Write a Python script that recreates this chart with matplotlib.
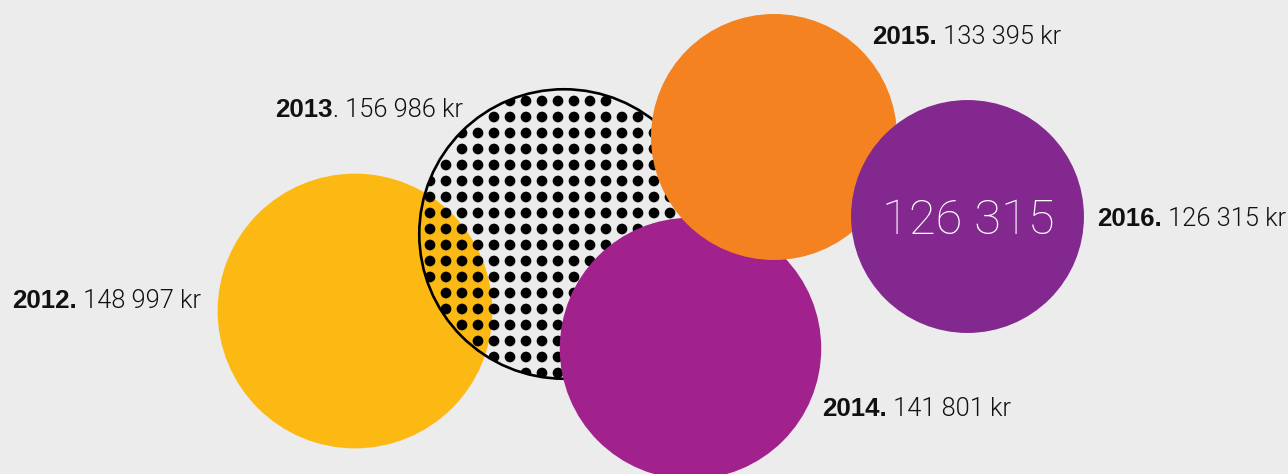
import matplotlib
matplotlib.use("Agg")
import matplotlib.pyplot as plt
from matplotlib.patches import Circle
from matplotlib.collections import PatchCollection
import numpy as np

# ---- data ----
years = ["2012", "2013", "2014", "2015", "2016"]
values = [148997, 156986, 141801, 133395, 126315]
highlight_index = 4

# ---- layout / style (pixel coordinates) ----
centers = [(355, 311), (564, 234), (690.5, 348.5), (774, 137), (967.5, 216.5)]
colors = ["#FDB913", None, "#A2228D", "#F58220", "#83288F"]
zorders = [1, 2, 3, 4, 5]
label_pos = [(12.5, 307.5), (275.5, 117), (822, 415.5), (872, 44.3), (1097.5, 225.7)]
dot_after_bold = [True, False, True, True, True]
px_per_kr = 0.000922
BG = "#ECECEC"

W, H = 1288, 474
fig = plt.figure(figsize=(W / 100, H / 100), dpi=100, facecolor=BG)
ax = fig.add_axes([0, 0, 1, 1])
ax.set_xlim(0, W)
ax.set_ylim(H, 0)
ax.set_facecolor(BG)
ax.axis("off")


def fmt(v):
    return f"{v:,}".replace(",", " ")


for i, (v, (cx, cy)) in enumerate(zip(values, centers)):
    r = v * px_per_kr
    if colors[i] is None:
        outline = Circle((cx, cy), r, facecolor="none", edgecolor="black",
                         lw=1.9, zorder=zorders[i] + 0.5)
        ax.add_patch(outline)
        xs = cx + np.arange(-134, 150, 16.0)
        ys = cy - 133 + np.arange(0, 290, 16.0)
        dots = []
        for yy in ys:
            for xx in xs:
                if np.hypot(xx - cx, yy - cy) <= r:
                    dots.append(Circle((xx, yy), 5.35))
        pc = PatchCollection(dots, facecolor="black", edgecolor="none",
                             zorder=zorders[i])
        ax.add_collection(pc)
        pc.set_clip_path(outline)
    else:
        ax.add_patch(Circle((cx, cy), r, facecolor=colors[i], edgecolor="none",
                            zorder=zorders[i]))

# highlight value inside the last bubble
hx, hy = centers[highlight_index]
ax.text(hx + 1, hy + 17, fmt(values[highlight_index]), ha="center", va="baseline",
        color="white", fontsize=35.3, family=["Roboto", "DejaVu Sans"],
        fontweight=100, zorder=10)

fig.canvas.draw()
rend = fig.canvas.get_renderer()
inv = ax.transData.inverted()
for i, (yr, v) in enumerate(zip(years, values)):
    x, y = label_pos[i]
    bold = yr + ("." if dot_after_bold[i] else "")
    rest = ("" if dot_after_bold[i] else ".") + " " + fmt(v) + " kr"
    t = ax.text(x, y, bold, ha="left", va="baseline", fontsize=18.6,
                fontweight="bold", family=["Liberation Sans", "DejaVu Sans"],
                color="#111111", zorder=10)
    bb = t.get_window_extent(renderer=rend)
    x_end = inv.transform((bb.x1, bb.y0))[0]
    ax.text(x_end, y, rest, ha="left", va="baseline", fontsize=18.3,
            fontweight=300, family=["Roboto", "DejaVu Sans"],
            color="#111111", zorder=10)

fig.savefig("out.png", dpi=100, facecolor=BG)
